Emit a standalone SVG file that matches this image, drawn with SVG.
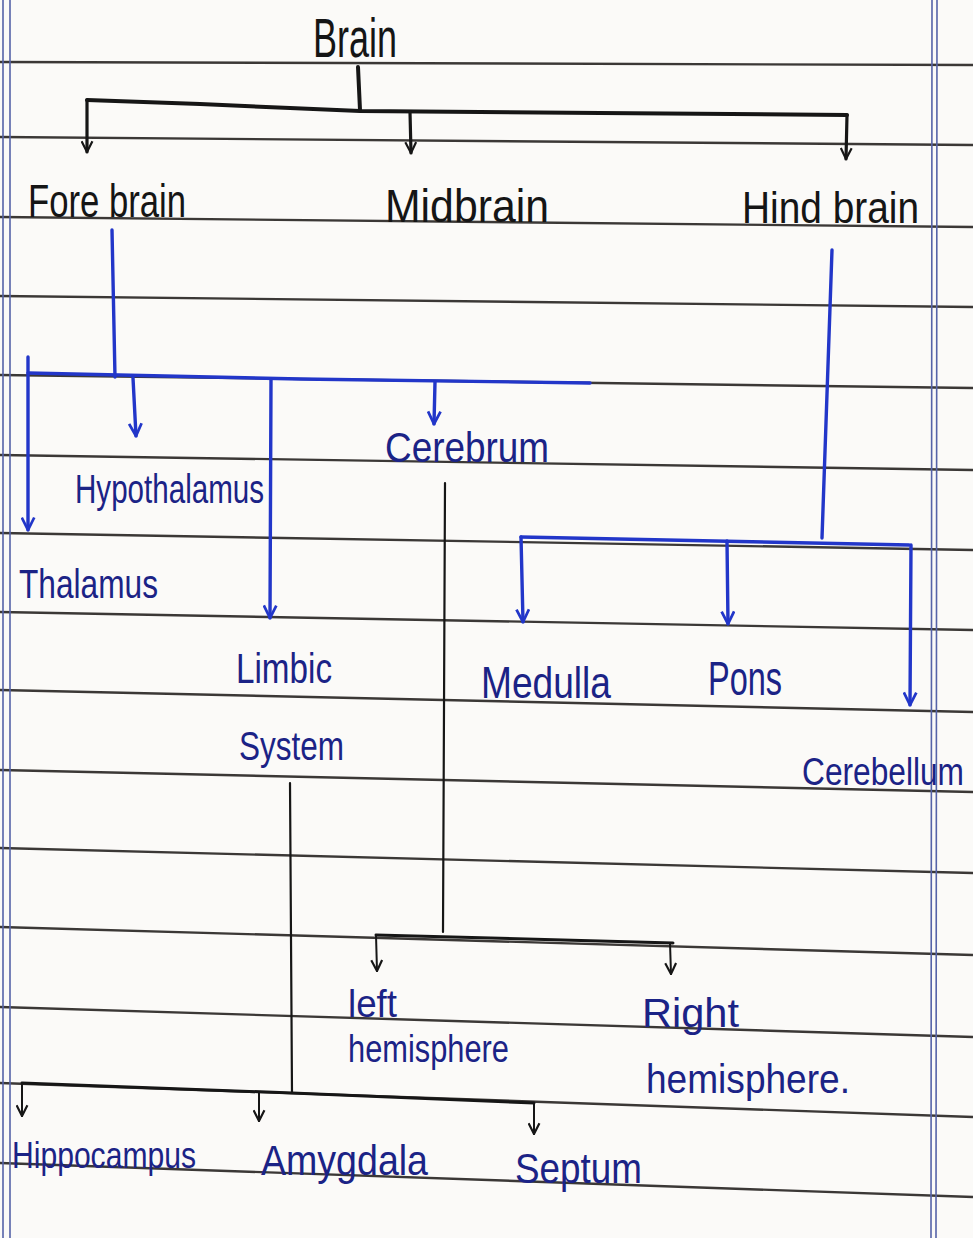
<svg xmlns="http://www.w3.org/2000/svg" width="973" height="1238" viewBox="0 0 973 1238">
<defs>
<style>
.rule{stroke:#3b3836;stroke-width:2.4;fill:none}
.margin{stroke:#5563a8;stroke-width:1.6;fill:none}
.bk{stroke:#161616;fill:none;stroke-linecap:round;stroke-linejoin:round}
.bl{stroke:#2236c9;fill:none;stroke-linecap:round;stroke-linejoin:round;stroke-width:3.4}
.tb{font-family:"Liberation Sans",Arial,sans-serif;fill:#151515}
.tu{font-family:"Liberation Sans",Arial,sans-serif;fill:#1b2386}
</style>
<marker id="ak" viewBox="0 0 12 12" refX="11" refY="6" markerWidth="13" markerHeight="13" markerUnits="userSpaceOnUse" orient="auto">
<path d="M1,1 L11,6 L1,11" fill="none" stroke="#161616" stroke-width="2"/>
</marker>
<marker id="au" viewBox="0 0 12 12" refX="11" refY="6" markerWidth="15" markerHeight="15" markerUnits="userSpaceOnUse" orient="auto">
<path d="M1,1 L11,6 L1,11" fill="none" stroke="#2236c9" stroke-width="2.2"/>
</marker>
</defs>
<rect width="973" height="1238" fill="#fbfaf8"/>
<g id="paper">
<path class="rule" d="M0,62 L973,65"/>
<path class="rule" d="M0,137 L973,145"/>
<path class="rule" d="M0,217 L973,227"/>
<path class="rule" d="M0,296 L973,307"/>
<path class="rule" d="M0,375 L973,388"/>
<path class="rule" d="M0,455 L973,470"/>
<path class="rule" d="M0,533 L973,550"/>
<path class="rule" d="M0,612 L973,630"/>
<path class="rule" d="M0,690 L973,712"/>
<path class="rule" d="M0,770 L973,792"/>
<path class="rule" d="M0,848 L973,873"/>
<path class="rule" d="M0,927 L973,955"/>
<path class="rule" d="M0,1007 L973,1037"/>
<path class="rule" d="M0,1083 L973,1117"/>
<path class="rule" d="M0,1163 L973,1197"/>
<path class="margin" d="M3,0 L3,1238 M10,0 L10,1238 M932,0 L931,1238 M937,0 L936,1238"/>
</g>
<g id="connectors">
<path class="bk" stroke-width="4" d="M358,67 L360,110"/>
<path class="bk" stroke-width="4" d="M87,100 L200,104 L290,108 L360,111 L600,113 L847,115"/>
<path class="bk" stroke-width="3.2" d="M87,100 L87,152" marker-end="url(#ak)"/>
<path class="bk" stroke-width="3.2" d="M410,112 L411,153" marker-end="url(#ak)"/>
<path class="bk" stroke-width="3.2" d="M847,115 L846,159" marker-end="url(#ak)"/>
<path class="bl" d="M112,230 L115,377"/>
<path class="bl" d="M28,373 L300,379 L590,383"/>
<path class="bl" d="M28,357 L28,530" marker-end="url(#au)"/>
<path class="bl" d="M133,378 L136,436" marker-end="url(#au)"/>
<path class="bl" d="M271,380 L270,618" marker-end="url(#au)"/>
<path class="bl" d="M435,382 L434,424" marker-end="url(#au)"/>
<path class="bl" d="M832,250 L822,538"/>
<path class="bl" d="M521,537 L909,545"/>
<path class="bl" d="M521,537 L523,622" marker-end="url(#au)"/>
<path class="bl" d="M727,541 L728,624" marker-end="url(#au)"/>
<path class="bl" d="M911,545 L910,705" marker-end="url(#au)"/>
<path class="bk" stroke-width="2.2" d="M445,483 L443,932"/>
<path class="bk" stroke-width="3" d="M376,935 L673,943"/>
<path class="bk" stroke-width="2" d="M376,935 L377,971" marker-end="url(#ak)"/>
<path class="bk" stroke-width="2" d="M670,943 L671,974" marker-end="url(#ak)"/>
<path class="bk" stroke-width="2.2" d="M290,783 L292,1093"/>
<path class="bk" stroke-width="3" d="M22,1083 L292,1093 L534,1103"/>
<path class="bk" stroke-width="2" d="M22,1083 L22,1116" marker-end="url(#ak)"/>
<path class="bk" stroke-width="2" d="M259,1092 L259,1121" marker-end="url(#ak)"/>
<path class="bk" stroke-width="2" d="M534,1103 L534,1134" marker-end="url(#ak)"/>
</g>
<g id="brain"><text class="tb" x="313" y="57" font-size="56" textLength="84" lengthAdjust="spacingAndGlyphs">Brain</text></g>
<g id="forebrain"><text class="tb" x="28" y="217" font-size="46" textLength="158" lengthAdjust="spacingAndGlyphs">Fore brain</text></g>
<g id="midbrain"><text class="tb" x="385" y="222" font-size="46" textLength="164" lengthAdjust="spacingAndGlyphs">Midbrain</text></g>
<g id="hindbrain"><text class="tb" x="742" y="223" font-size="44" textLength="177" lengthAdjust="spacingAndGlyphs">Hind brain</text></g>
<g id="cerebrum"><text class="tu" x="385" y="462" font-size="42" textLength="164" lengthAdjust="spacingAndGlyphs">Cerebrum</text></g>
<g id="hypothalamus"><text class="tu" x="75" y="503" font-size="40" textLength="189" lengthAdjust="spacingAndGlyphs">Hypothalamus</text></g>
<g id="thalamus"><text class="tu" x="19" y="598" font-size="40" textLength="139" lengthAdjust="spacingAndGlyphs">Thalamus</text></g>
<g id="limbic"><text class="tu" x="236" y="683" font-size="42" textLength="96" lengthAdjust="spacingAndGlyphs">Limbic</text><text class="tu" x="239" y="760" font-size="40" textLength="105" lengthAdjust="spacingAndGlyphs">System</text></g>
<g id="medulla"><text class="tu" x="481" y="698" font-size="44" textLength="130" lengthAdjust="spacingAndGlyphs">Medulla</text></g>
<g id="pons"><text class="tu" x="708" y="695" font-size="48" textLength="74" lengthAdjust="spacingAndGlyphs">Pons</text></g>
<g id="cerebellum"><text class="tu" transform="translate(802,785) scale(1,1.25)" x="0" y="0" font-size="31" textLength="162" lengthAdjust="spacingAndGlyphs">Cerebellum</text></g>
<g id="lefthemisphere"><text class="tu" x="348" y="1017" font-size="38" textLength="49" lengthAdjust="spacingAndGlyphs">left</text><text class="tu" x="348" y="1062" font-size="38" textLength="161" lengthAdjust="spacingAndGlyphs">hemisphere</text></g>
<g id="righthemisphere"><text class="tu" x="642" y="1027" font-size="40" textLength="97" lengthAdjust="spacingAndGlyphs">Right</text><text class="tu" x="646" y="1093" font-size="40" textLength="204" lengthAdjust="spacingAndGlyphs">hemisphere.</text></g>
<g id="hippocampus"><text class="tu" x="12" y="1168" font-size="36" textLength="184" lengthAdjust="spacingAndGlyphs">Hippocampus</text></g>
<g id="amygdala"><text class="tu" x="261" y="1175" font-size="42" textLength="167" lengthAdjust="spacingAndGlyphs">Amygdala</text></g>
<g id="septum"><text class="tu" x="515" y="1183" font-size="42" textLength="127" lengthAdjust="spacingAndGlyphs">Septum</text></g>
</svg>
